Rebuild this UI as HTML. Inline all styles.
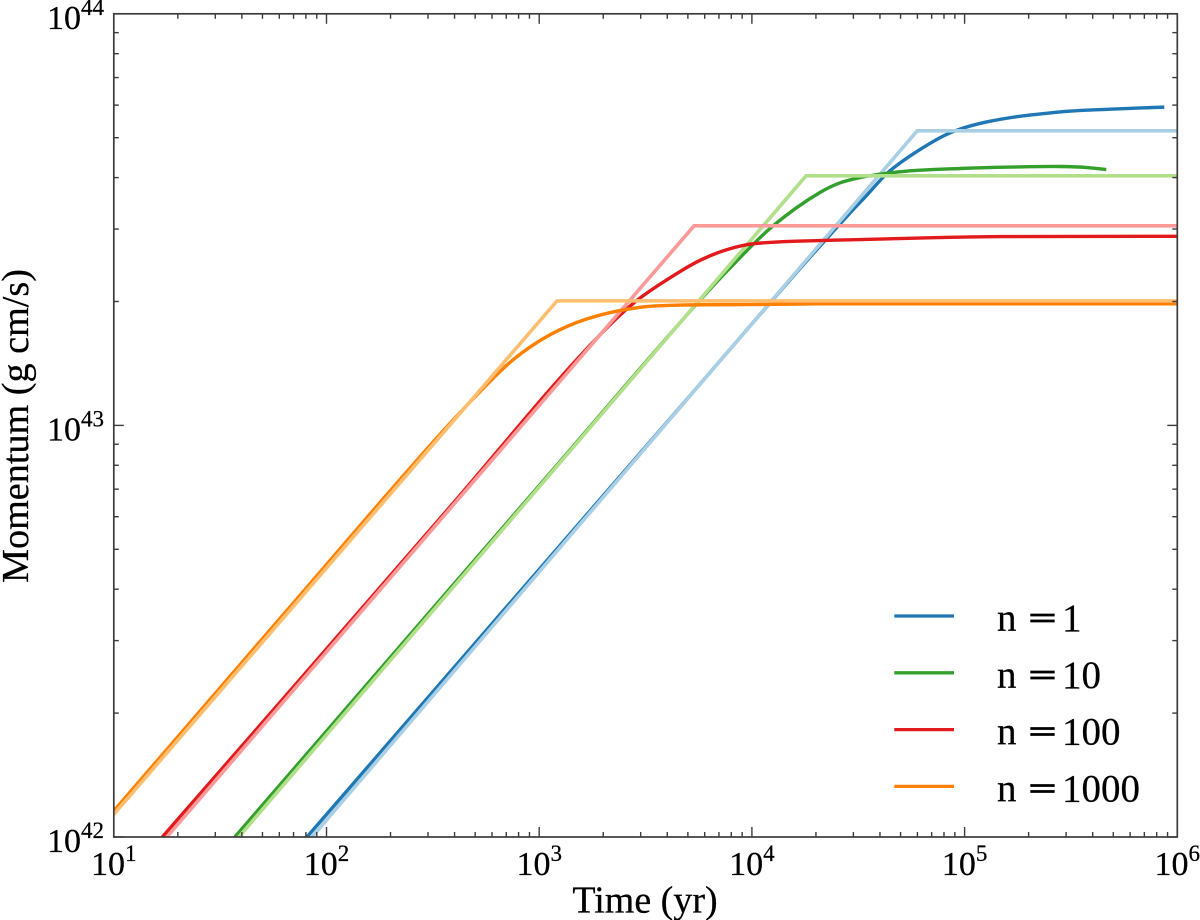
<!DOCTYPE html>
<html lang="en">
<head>
<meta charset="utf-8">
<title>Momentum vs Time</title>
<style>
  html, body { margin: 0; padding: 0; background: #fff; }
  svg { display: block; }
  text { font-family: "Liberation Serif", "Times New Roman", serif; fill: #000; stroke: #000; stroke-width: 0.25; }
</style>
</head>
<body>
<svg id="chart" xmlns="http://www.w3.org/2000/svg" width="1200" height="920" viewBox="0 0 1200 920">
  <defs>
    <clipPath id="plot-clip"><rect x="114" y="14" width="1063.4" height="823"></rect></clipPath>
  </defs>
  <rect x="0" y="0" width="1200" height="920" fill="#fff"></rect>
  <g id="series-layer" clip-path="url(#plot-clip)"></g>
  <g id="tick-layer"></g>
  <rect x="113.8" y="13.8" width="1063.5" height="823.2" fill="none" stroke="#3c3c3c" stroke-width="1.7"></rect>
  <g id="label-layer"></g>
  <text x="645" y="912.5" font-size="38" text-anchor="middle">Time (yr)</text>
  <text transform="translate(28,426) rotate(-90)" font-size="38.2" text-anchor="middle">Momentum (g cm/s)</text>
  <g id="legend-layer"></g>
</svg>
<script>
// ---- Chart data (time in yr, momentum in units of 1e42 g cm/s) ----
const seriesKeys = ["1", "10", "100", "1000"];
const legendDensity = ["1", "10", "100", "1000"];

const modelTimeN1 = [85.4, 59860, 1000000];
const modelMomN1 = [1, 51.96, 51.96];
const modelTimeN10 = [38.7, 17980, 1000000];
const modelMomN10 = [1, 40.4, 40.4];
const modelTimeN100 = [17.75, 5347, 1000000];
const modelMomN100 = [1, 30.54, 30.54];
const modelTimeN1000 = [10, 1213, 1000000];
const modelMomN1000 = [1.135, 20.07, 20.07];

const simTimeN1 = [80.9, 654, 5707, 16860, 23320, 28970, 34830, 43710, 59860, 85570, 127700, 281600, 484000, 868700];
const simMomN1 = [1, 3.471, 12.61, 24.07, 29.04, 32.84, 36.32, 41.19, 46.34, 51.39, 54.64, 57.77, 58.66, 59.33];
const simTimeN10 = [37.07, 221.5, 1124, 5707, 7900, 12580, 20930, 25990, 32280, 40090, 55480, 95350, 163800, 281600, 377400, 463400];
const simMomN10 = [1, 2.907, 7.656, 20.15, 24.14, 30.54, 36.83, 38.85, 40.01, 40.78, 41.54, 42.09, 42.42, 42.56, 42.32, 41.84];
const simTimeN100 = [16.91, 74.98, 380.6, 1932, 2884, 4596, 5707, 7320, 9493, 13580, 20930, 28970, 85570, 147000, 1000000];
const simMomN100 = [1, 2.414, 6.338, 16.60, 20.13, 23.65, 25.18, 26.55, 27.49, 27.92, 28.13, 28.24, 28.64, 28.76, 28.80];
const simTimeN1000 = [10, 74.98, 341.5, 498.9, 753, 1124, 1678, 2980, 4596, 9493, 20930, 1000000];
const simMomN1000 = [1.157, 3.862, 9.51, 11.73, 14.43, 16.60, 18.15, 19.36, 19.60, 19.66, 19.74, 19.74];

const xMajorExponents = [1, 2, 3, 4, 5, 6];
const yMajorExponents = [42, 43, 44];
const minorMultipliers = [2, 3, 4, 5, 6, 7, 8, 9];

const modelColors = ["#a9cfe4", "#b2df8a", "#fb9a99", "#fdbf6f"];
const simColors = ["#1f78b4", "#33a02c", "#e31a1c", "#ff7f00"];

// ---- Scales ----
const plot = { left: 113.8, right: 1177.3, top: 13.8, bottom: 837 };
function xScale(t) {
  return plot.left + (Math.log10(t) - 1) / 5 * (plot.right - plot.left);
}
function yScale(m) {
  return plot.bottom - Math.log10(m) / 2 * (plot.bottom - plot.top);
}
function yScaleExp(e) {
  return yScale(Math.pow(10, e - 42));
}

const NS = "http://www.w3.org/2000/svg";
function make(tag, parent, attrs) {
  const el = document.createElementNS(NS, tag);
  for (const k in attrs) el.setAttribute(k, attrs[k]);
  parent.appendChild(el);
  return el;
}

// Smooth path with chord-length handles, so unevenly spaced points do not overshoot.
function smoothPath(times, moms) {
  const p = times.map((t, i) => [xScale(t), yScale(moms[i])]);
  const n = p.length;
  const dir = p.map((pt, i) => {
    const a = p[Math.max(i - 1, 0)], c = p[Math.min(i + 1, n - 1)];
    const l1 = Math.hypot(pt[0] - a[0], pt[1] - a[1]) || 1, l2 = Math.hypot(c[0] - pt[0], c[1] - pt[1]) || 1;
    const dx = (pt[0] - a[0]) / l1 + (c[0] - pt[0]) / l2, dy = (pt[1] - a[1]) / l1 + (c[1] - pt[1]) / l2;
    const l = Math.hypot(dx, dy) || 1;
    return [dx / l, dy / l];
  });
  let d = "M" + p[0][0].toFixed(2) + " " + p[0][1].toFixed(2);
  for (let i = 0; i < n - 1; i++) {
    const b = p[i], c = p[i + 1];
    const h = Math.hypot(c[0] - b[0], c[1] - b[1]) / 3;
    d += "C" + (b[0] + dir[i][0] * h).toFixed(2) + " " + (b[1] + dir[i][1] * h).toFixed(2) + " " +
         (c[0] - dir[i + 1][0] * h).toFixed(2) + " " + (c[1] - dir[i + 1][1] * h).toFixed(2) + " " +
         c[0].toFixed(2) + " " + c[1].toFixed(2);
  }
  return d;
}
function straightPath(times, moms) {
  return times.map((t, i) => (i ? "L" : "M") + xScale(t).toFixed(2) + " " + yScale(moms[i]).toFixed(2)).join("");
}

// ---- Series: each density draws simulation first, then its model on top ----
const seriesLayer = document.getElementById("series-layer");
const modelTimes = [modelTimeN1, modelTimeN10, modelTimeN100, modelTimeN1000];
const modelMoms = [modelMomN1, modelMomN10, modelMomN100, modelMomN1000];
const simTimes = [simTimeN1, simTimeN10, simTimeN100, simTimeN1000];
const simMoms = [simMomN1, simMomN10, simMomN100, simMomN1000];

seriesKeys.forEach(function (key, i) {
  const sim = make("path", seriesLayer, { d: smoothPath(simTimes[i], simMoms[i]), fill: "none", stroke: simColors[i], "stroke-width": 3.4, "stroke-linejoin": "round" });
  
  
  const model = make("path", seriesLayer, { d: straightPath(modelTimes[i], modelMoms[i]), fill: "none", stroke: modelColors[i], "stroke-width": 3.6, "stroke-linejoin": "miter" });
  
  
});

// ---- Ticks ----
const tickLayer = document.getElementById("tick-layer");
function tick(x1, y1, x2, y2, name) {
  const t = make("line", tickLayer, { x1: x1, y1: y1, x2: x2, y2: y2, stroke: "#3c3c3c", "stroke-width": 1.4 });
  
  
}
const MAJOR = 10, MINOR = 5;
xMajorExponents.forEach(function (e) {
  const x = xScale(Math.pow(10, e));
  tick(x, plot.bottom, x, plot.bottom - MAJOR, 'x-major-tick');
  tick(x, plot.top, x, plot.top + MAJOR, 'x-major-tick-top');
  if (e < 6) minorMultipliers.forEach(function (m) {
    const xm = xScale(m * Math.pow(10, e));
    tick(xm, plot.bottom, xm, plot.bottom - MINOR, 'x-minor-tick');
    tick(xm, plot.top, xm, plot.top + MINOR, 'x-minor-tick-top');
  });
});
yMajorExponents.forEach(function (e) {
  const y = yScaleExp(e);
  tick(plot.left, y, plot.left + MAJOR, y, 'y-major-tick');
  tick(plot.right, y, plot.right - MAJOR, y, 'y-major-tick-right');
  if (e < 44) minorMultipliers.forEach(function (m) {
    const ym = yScale(m * Math.pow(10, e - 42));
    tick(plot.left, ym, plot.left + MINOR, ym, 'y-minor-tick');
    tick(plot.right, ym, plot.right - MINOR, ym, 'y-minor-tick-right');
  });
});

// ---- Tick labels ----
const labelLayer = document.getElementById("label-layer");
function powerLabel(x, y, anchor, exp, name) {
  const t = make("text", labelLayer, { x: x, y: y, "font-size": 34, "text-anchor": anchor });
  
  
  t.appendChild(document.createTextNode("10"));
  const s = make("tspan", t, { "font-size": 23, dy: -14 });
  s.textContent = String(exp);
}
xMajorExponents.forEach(function (e) {
  powerLabel(xScale(Math.pow(10, e)), 875, "middle", e, 'x-tick-label');
});
yMajorExponents.forEach(function (e) {
  powerLabel(104, yScaleExp(e) + 15, "end", e, 'y-tick-label');
});

// ---- Legend ----
const legendLayer = document.getElementById("legend-layer");
const legendLeft = 894.3, legendRight = 954, legendTop = 616, legendStep = 56.8;
legendDensity.forEach(function (value, i) {
  const y = legendTop + i * legendStep;
  const g = make("g", legendLayer, {});
  
  
  const l = make("line", g, { x1: legendLeft, y1: y, x2: legendRight, y2: y, stroke: simColors[i], "stroke-width": 3.3 });
  
  
  const a = make("text", g, { x: 997, y: y + 15, "font-size": 39 });
  
  
  a.textContent = "n";
  const b = make("text", g, { transform: "translate(1028.4," + (y + 11.5) + ") scale(1,0.6)", "font-size": 50, "font-weight": "bold", style: "stroke-width:1.1" });
  
  
  b.textContent = "=";
  const c = make("text", g, { x: 1062, y: y + 15, "font-size": 39 });
  
  
  c.textContent = value;
});
</script>
</body>
</html>
